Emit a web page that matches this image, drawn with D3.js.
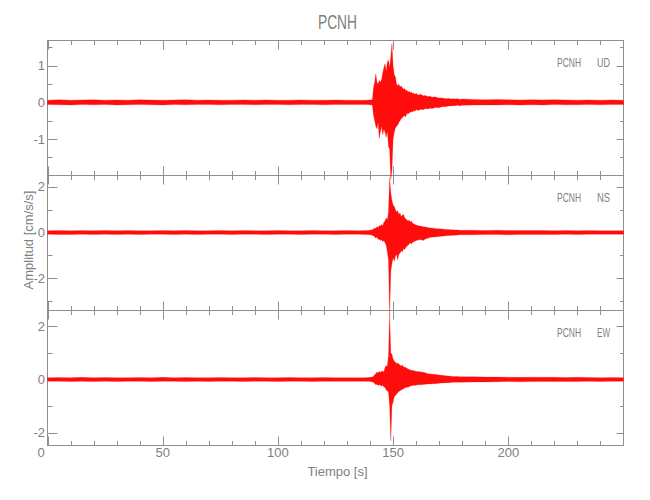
<!DOCTYPE html>
<html><head><meta charset="utf-8">
<script src="https://cdn.jsdelivr.net/npm/d3@7"></script>
<style>body{margin:0;background:#fff}svg{display:block}</style>
</head><body>
<svg id="c" width="650" height="500"></svg>
<script>
// ---------------- data ----------------
const chartTitle = "PCNH";
const station = "PCNH";
const components = ["UD", "NS", "EW"];
const xLabel = "Tiempo [s]";
const yLabel = "Amplitud [cm/s/s]";

// knot times [s] of the trace envelope
const times = [0,5,10,15,20,25,30,35,40,45,50,55,60,65,70,75,80,85,90,95,100,105,110,115,120,125,130,135,138,140,141,
  141.5,142,142.5,143,143.5,144,144.5,145,145.5,146,146.5,147,147.5,148,148.5,149,149.5,150,150.5,151,151.5,152,152.5,153,153.5,154,154.5,155,155.5,156,156.5,157,157.5,158,158.5,159,159.5,160,
  161,162,163,164,165,166,167,168,169,170,171,172,173,174,175,176,177,178,179,180,
  185,190,195,200,205,210,215,220,225,230,235,240,245,250];

// upper / lower envelope of each component [cm/s/s]
const udHigh = [0.06,0.07,0.06,0.065,0.07,0.06,0.065,0.06,0.07,0.065,0.06,0.065,0.07,0.06,0.065,0.06,0.06,0.065,0.06,0.065,0.06,0.06,0.065,0.06,0.06,0.065,0.06,0.06,0.06,0.065,0.07,
  0.4,0.55,0.78,0.55,0.5,0.6,0.55,0.62,0.8,0.95,1.05,0.85,1.1,1.15,0.95,1.25,1.6,1.0,0.75,0.7,0.5,0.45,0.5,0.42,0.45,0.4,0.36,0.38,0.32,0.33,0.28,0.3,0.26,0.28,0.24,0.25,0.22,0.24,
  0.2,0.22,0.18,0.19,0.16,0.17,0.14,0.15,0.13,0.12,0.12,0.11,0.1,0.11,0.09,0.1,0.09,0.1,0.08,0.09,
  0.08,0.07,0.075,0.07,0.065,0.07,0.065,0.07,0.065,0.06,0.065,0.06,0.065,0.06];
const udLow = [-0.06,-0.065,-0.07,-0.06,-0.065,-0.06,-0.07,-0.065,-0.06,-0.065,-0.07,-0.06,-0.065,-0.06,-0.06,-0.065,-0.06,-0.06,-0.065,-0.06,-0.06,-0.065,-0.06,-0.06,-0.065,-0.06,-0.06,-0.06,-0.06,-0.065,-0.07,
  -0.35,-0.5,-0.65,-0.72,-0.55,-0.98,-0.8,-0.65,-0.88,-0.72,-0.82,-0.95,-0.78,-1.2,-1.28,-2.1,-1.85,-1.0,-0.82,-0.7,-0.65,-0.62,-0.55,-0.5,-0.45,-0.42,-0.38,-0.36,-0.4,-0.3,-0.32,-0.28,-0.27,-0.25,-0.26,-0.22,-0.24,-0.2,
  -0.22,-0.19,-0.2,-0.17,-0.18,-0.16,-0.17,-0.15,-0.14,-0.15,-0.12,-0.12,-0.11,-0.1,-0.1,-0.09,-0.09,-0.08,-0.09,-0.08,
  -0.075,-0.07,-0.07,-0.065,-0.07,-0.065,-0.07,-0.06,-0.065,-0.065,-0.06,-0.065,-0.06,-0.06];

const nsHigh = [0.08,0.09,0.08,0.085,0.08,0.09,0.08,0.085,0.08,0.08,0.09,0.08,0.085,0.08,0.08,0.09,0.08,0.085,0.08,0.08,0.085,0.08,0.08,0.085,0.08,0.08,0.085,0.08,0.09,0.1,0.12,
  0.15,0.2,0.18,0.25,0.22,0.3,0.28,0.35,0.3,0.45,0.5,0.65,0.55,0.9,2.38,1.75,1.4,1.2,1.15,1.0,0.9,0.95,0.8,0.85,0.7,0.75,0.8,0.65,0.6,0.55,0.5,0.55,0.45,0.5,0.4,0.38,0.35,0.33,
  0.3,0.28,0.25,0.24,0.22,0.2,0.2,0.18,0.17,0.16,0.15,0.14,0.13,0.13,0.12,0.12,0.11,0.11,0.1,0.1,
  0.1,0.09,0.1,0.09,0.09,0.085,0.09,0.08,0.085,0.08,0.085,0.08,0.08,0.08];
const nsLow = [-0.08,-0.085,-0.09,-0.08,-0.085,-0.08,-0.09,-0.08,-0.085,-0.08,-0.08,-0.09,-0.08,-0.085,-0.08,-0.08,-0.085,-0.08,-0.08,-0.085,-0.08,-0.08,-0.085,-0.08,-0.08,-0.085,-0.08,-0.08,-0.09,-0.1,-0.12,
  -0.15,-0.18,-0.25,-0.2,-0.3,-0.28,-0.35,-0.3,-0.4,-0.35,-0.45,-0.55,-0.85,-1.2,-3.6,-1.7,-1.35,-1.1,-1.25,-1.05,-0.95,-1.2,-0.95,-0.9,-0.8,-0.85,-0.7,-0.75,-0.65,-0.6,-0.55,-0.5,-0.45,-0.5,-0.42,-0.4,-0.38,-0.35,
  -0.33,-0.3,-0.35,-0.28,-0.25,-0.22,-0.2,-0.2,-0.18,-0.17,-0.16,-0.15,-0.14,-0.13,-0.13,-0.12,-0.12,-0.11,-0.1,-0.1,
  -0.1,-0.09,-0.09,-0.1,-0.09,-0.085,-0.09,-0.085,-0.08,-0.085,-0.08,-0.08,-0.08,-0.08];

const ewHigh = [0.07,0.075,0.07,0.08,0.07,0.075,0.07,0.07,0.075,0.07,0.08,0.07,0.075,0.07,0.07,0.075,0.07,0.07,0.075,0.07,0.07,0.075,0.07,0.07,0.075,0.07,0.07,0.07,0.07,0.08,0.09,
  0.12,0.18,0.22,0.28,0.25,0.3,0.27,0.3,0.32,0.28,0.45,0.52,0.5,0.9,2.47,1.0,0.95,0.77,0.7,0.65,0.6,0.62,0.58,0.55,0.5,0.55,0.48,0.46,0.45,0.42,0.4,0.38,0.36,0.35,0.33,0.34,0.32,0.3,
  0.3,0.28,0.27,0.25,0.22,0.21,0.2,0.2,0.18,0.17,0.16,0.15,0.14,0.13,0.12,0.11,0.11,0.11,0.1,0.1,
  0.1,0.09,0.09,0.085,0.08,0.085,0.08,0.08,0.075,0.08,0.075,0.07,0.075,0.07];
const ewLow = [-0.07,-0.07,-0.075,-0.07,-0.08,-0.07,-0.075,-0.07,-0.07,-0.075,-0.07,-0.07,-0.08,-0.07,-0.075,-0.07,-0.07,-0.075,-0.07,-0.07,-0.075,-0.07,-0.07,-0.075,-0.07,-0.07,-0.07,-0.07,-0.07,-0.08,-0.09,
  -0.1,-0.15,-0.2,-0.18,-0.23,-0.2,-0.22,-0.25,-0.22,-0.28,-0.3,-0.4,-0.42,-0.48,-1.0,-2.31,-0.99,-0.85,-0.65,-0.6,-0.55,-0.5,-0.45,-0.42,-0.4,-0.38,-0.35,-0.32,-0.3,-0.28,-0.3,-0.26,-0.25,-0.24,-0.23,-0.22,-0.23,-0.21,
  -0.2,-0.2,-0.19,-0.18,-0.17,-0.17,-0.16,-0.16,-0.15,-0.14,-0.13,-0.13,-0.12,-0.12,-0.11,-0.1,-0.1,-0.1,-0.1,-0.1,
  -0.09,-0.09,-0.085,-0.08,-0.085,-0.08,-0.08,-0.075,-0.08,-0.075,-0.07,-0.075,-0.07,-0.07];

// axis ranges and ticks
const timeRange = [0, 250];
const xMajorTicks = [0, 50, 100, 150, 200];
const xMinorTicks = [10,20,30,40,60,70,80,90,110,120,130,140,160,170,180,190,210,220,230,240];
const udRange = [-1.98, 1.70], udMajor = [-1, 0, 1], udMinor = [-1.5, -0.5, 0.5, 1.5];
const nsRange = [-3.38, 2.51], nsMajor = [-2, 0, 2], nsMinor = [-3, -1, 1];
const ewRange = [-2.47, 2.62], ewMajor = [-2, 0, 2], ewMinor = [-1, 1];

// ---------------- drawing ----------------
const svg = d3.select("#c");
const FONT = "'Liberation Sans Narrow','Liberation Sans',Arial,sans-serif";
const AXIS = "#8f8f8f", TEXT = "#808080", TRACE = "#ff0000";
const left = 47.5, right = 623.5, top0 = 40, panelH = 135;

const x = d3.scaleLinear().domain(timeRange).range([left, right]);
const crisp = v => Math.round(v) + 0.5;

const panels = [
  {comp: components[0], hi: udHigh, lo: udLow, range: udRange, major: udMajor, minor: udMinor},
  {comp: components[1], hi: nsHigh, lo: nsLow, range: nsRange, major: nsMajor, minor: nsMinor},
  {comp: components[2], hi: ewHigh, lo: ewLow, range: ewRange, major: ewMajor, minor: ewMinor}
];

const gAxes = svg.append("g");
const gTrace = svg.append("g");

panels.forEach((p, i) => {
  const top = top0 + i * panelH, bottom = top + panelH;
  const y = d3.scaleLinear().domain(p.range).range([bottom, top]);
  const g = gAxes.append("g");

  // frame
  g.append("rect").attr("x", left).attr("y", top + 0.5)
    .attr("width", right - left).attr("height", panelH)
    .attr("fill", "none").attr("stroke", AXIS).attr("stroke-width", 1);

  // x ticks top & bottom (inward)
  const xt = xMajorTicks.map(v => ({v, len: 9})).concat(xMinorTicks.map(v => ({v, len: 4.5})));
  xt.forEach(d => {
    const px = crisp(x(d.v));
    g.append("line").attr("x1", px).attr("x2", px).attr("y1", top + 0.5).attr("y2", top + 0.5 + d.len)
      .attr("stroke", AXIS);
    g.append("line").attr("x1", px).attr("x2", px).attr("y1", bottom + 0.5).attr("y2", bottom + 0.5 - d.len)
      .attr("stroke", AXIS);
  });

  // y ticks left & right (inward)
  const yt = p.major.map(v => ({v, l: 10, r: 7})).concat(p.minor.map(v => ({v, l: 5, r: 3.5})));
  yt.forEach(d => {
    const py = crisp(y(d.v));
    g.append("line").attr("x1", left).attr("x2", left + d.l).attr("y1", py).attr("y2", py).attr("stroke", AXIS);
    g.append("line").attr("x1", right).attr("x2", right - d.r).attr("y1", py).attr("y2", py).attr("stroke", AXIS);
  });

  // y tick labels
  p.major.forEach(v => {
    g.append("text").attr("x", left - 2.5).attr("y", y(v)).attr("dy", "0.36em")
      .attr("text-anchor", "end").attr("font-family", FONT).attr("font-size", 13)
      .attr("fill", TEXT).text(v < 0 ? "-" + Math.abs(v) : String(v));
  });

  // component label
  g.append("text").attr("x", 557).attr("y", top + 26.5)
    .attr("font-family", FONT).attr("font-size", 12).attr("fill", TEXT)
    .attr("textLength", 24).attr("lengthAdjust", "spacingAndGlyphs").text(station);
  g.append("text").attr("x", 597).attr("y", top + 26.5)
    .attr("font-family", FONT).attr("font-size", 12).attr("fill", TEXT)
    .attr("textLength", 13).attr("lengthAdjust", "spacingAndGlyphs").text(p.comp);

  // trace envelope
  const area = d3.area()
    .x((t) => x(t))
    .y0((t, k) => y(p.lo[k]))
    .y1((t, k) => y(p.hi[k]));
  gTrace.append("path").datum(times).attr("d", area)
    .attr("fill", TRACE).attr("fill-opacity", 0.95)
    .attr("stroke", TRACE).attr("stroke-opacity", 0.5).attr("stroke-width", 0.5);
});

// x tick labels (bottom panel)
const bottomY = top0 + 3 * panelH;
xMajorTicks.forEach((v, k) => {
  svg.append("text").attr("x", x(v) + (k === 0 ? -6.5 : 0)).attr("y", bottomY + 12)
    .attr("text-anchor", "middle").attr("font-family", FONT).attr("font-size", 13)
    .attr("fill", TEXT).text(String(v));
});

// axis titles
svg.append("text").attr("x", (left + right) / 2 + 2).attr("y", bottomY + 31)
  .attr("text-anchor", "middle").attr("font-family", FONT).attr("font-size", 13)
  .attr("fill", TEXT).text(xLabel);
svg.append("text").attr("transform", "translate(33,240) rotate(-90)")
  .attr("text-anchor", "middle").attr("font-family", FONT).attr("font-size", 13)
  .attr("fill", TEXT).text(yLabel);

// title
svg.append("text").attr("x", (left + right) / 2 + 2).attr("y", 29)
  .attr("text-anchor", "middle").attr("font-family", FONT).attr("font-size", 20)
  .attr("fill", TEXT).attr("textLength", 39).attr("lengthAdjust", "spacingAndGlyphs").text(chartTitle);
</script>
</body></html>
